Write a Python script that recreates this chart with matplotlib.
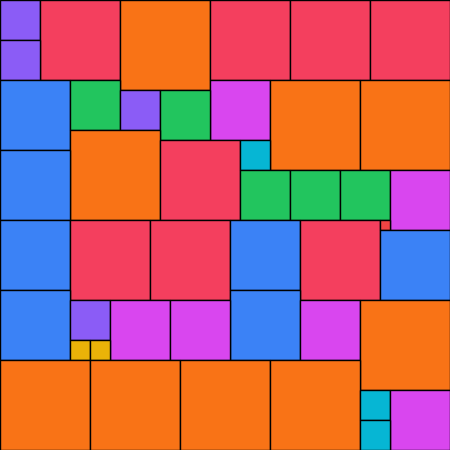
import matplotlib
matplotlib.use("Agg")
import matplotlib.pyplot as plt
from matplotlib.patches import Rectangle
import numpy as np

# square sides (grid units), in reading order of their top-left corners
sizes = [4, 8, 9, 8, 8, 8,
         4,
         7, 5, 6, 9, 9,
         4, 5,
         9,
         8, 3,
         7,
         5, 5, 5, 6,
         7, 8, 8, 7, 8, 1,
         7,
         7, 7,
         4, 6, 6, 6, 9,
         2, 2,
         9, 9, 9, 9,
         3, 6,
         3]
side = 45

# colour per square size
colors = {1: '#ef4444', 2: '#eab308', 3: '#06b6d4', 4: '#8b5cf6', 5: '#22c55e',
          6: '#d946ef', 7: '#3b82f6', 8: '#f43f5e', 9: '#f97316'}


def pack(sizes, n):
    # put each square in the first free cell (row by row)
    grid = np.zeros((n, n), dtype=bool)
    out = []
    for s in sizes:
        free = np.argwhere(~grid)
        y, x = free[0]
        grid[y:y + s, x:x + s] = True
        out.append((x, y, s))
    return out


fig = plt.figure(figsize=(4.5, 4.5), dpi=100)
ax = fig.add_axes([0, 0, 1, 1])
for x, y, s in pack(sizes, side):
    ax.add_patch(Rectangle((x, y), s, s, facecolor=colors[s],
                           edgecolor='black', linewidth=1.0))
ax.set_xlim(0, side)
ax.set_ylim(side, 0)
ax.axis('off')
fig.savefig('out.png', dpi=100)
